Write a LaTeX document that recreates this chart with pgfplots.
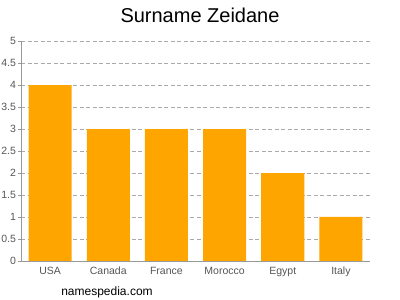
\documentclass[border=0pt]{standalone}
\usepackage{pgfplots}
\pgfplotsset{compat=1.18}
\usepackage{fontspec}
\setmainfont{Liberation Sans}
\definecolor{barorange}{HTML}{FFA500}
\definecolor{tickgray}{HTML}{555555}
\definecolor{axgray}{HTML}{999999}
\definecolor{gridgray}{HTML}{AAAAAA}
\begin{document}
\begin{tikzpicture}
\useasboundingbox (0pt,0pt) rectangle (400pt,300pt);
\begin{axis}[
  at={(21pt,39pt)}, anchor=south west,
  scale only axis, width=349pt, height=220pt,
  xmin=-0.5, xmax=5.5, ymin=0, ymax=5,
  axis lines*=left,
  axis line style={axgray, line width=0.6pt},
  ytick={0,0.5,...,5},
  yticklabels={0,0.5,1,1.5,2,2.5,3,3.5,4,4.5,5},
  xtick={0,1,2,3,4,5},
  xticklabels={USA,Canada,France,Morocco,Egypt,Italy},
  ytick style={axgray},
  xtick style={draw=none},
  major tick length=3pt,
  tick align=outside,
  ymajorgrids,
  grid style={dash pattern=on 4pt off 2.5pt, gridgray, line width=0.5pt},
  ticklabel style={font=\fontsize{10.5}{12}\selectfont, text=tickgray},
  yticklabel style={xshift=1.5pt},
  xticklabel style={yshift=1pt, text height=1.6ex, text depth=0.3ex},
  /pgf/number format/assume math mode=true,
  clip=false,
]
\addplot[ybar, bar width=43pt, fill=barorange, draw=none] coordinates {(0,4) (1,3) (2,3) (3,3) (4,2) (5,1)};
\end{axis}
\node at (200pt,285pt) {\fontsize{20}{24}\selectfont Surname Zeidane};
\node at (107pt,8pt) {\fontsize{12}{14}\selectfont namespedia.com};
\end{tikzpicture}
\end{document}
